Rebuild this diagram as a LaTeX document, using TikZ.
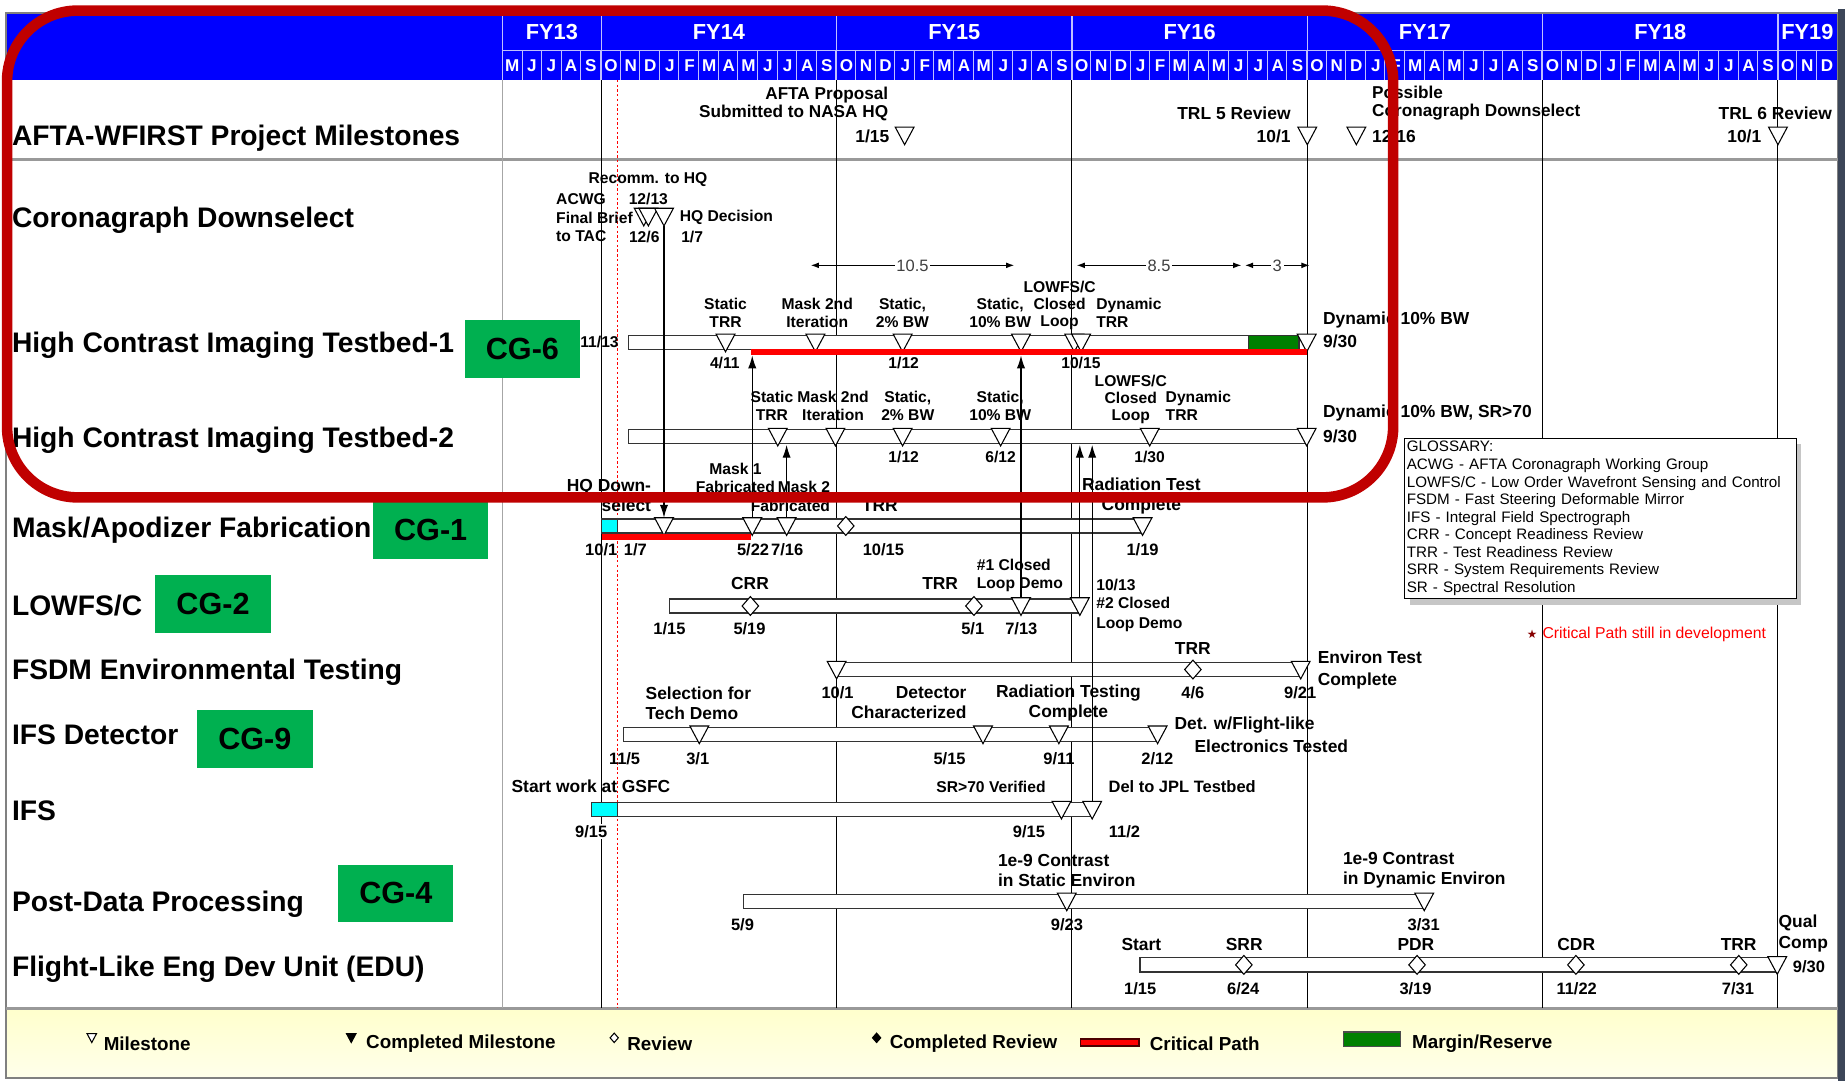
\documentclass[tikz,border=0pt]{standalone}
\usepackage{fontspec}
\setmainfont{Liberation Sans}
\newfontfamily\symfont{DejaVu Sans}
\usetikzlibrary{arrows.meta}

\definecolor{hdrblue}{RGB}{0,0,255}
\definecolor{cgreen}{RGB}{0,176,80}
\definecolor{margin}{RGB}{0,128,0}
\definecolor{outred}{RGB}{192,0,0}
\definecolor{legyellow}{RGB}{255,255,204}
\definecolor{slate}{RGB}{60,70,88}
\definecolor{aqua}{RGB}{0,255,255}

\newcommand\fa{\fontsize{13.3}{15}\selectfont\bfseries}
\newcommand\fb{\fontsize{14.8}{17}\selectfont\bfseries}
\newcommand\fd{\fontsize{14}{16}\selectfont\bfseries}

\begin{document}
\begin{tikzpicture}[x=1pt, y=-1pt,
    every node/.style={inner sep=0pt},
    la/.style={font=\fa, align=center},
    lb/.style={font=\fb, align=center},
    dt/.style={font=\fd},
    rowlab/.style={anchor=base west, font=\fontsize{24}{28}\selectfont\bfseries},
    cg/.style={fill=cgreen, minimum width=98, minimum height=49, font=\fontsize{26}{30}\selectfont\bfseries},
    bar/.style={draw=black!80, fill=white, line width=1.1pt},
    link/.style={line width=1.1pt, -{Latex[length=11pt,width=7pt]}},
    dim/.style={line width=1pt, {Latex[length=7pt,width=5pt]}-{Latex[length=7pt,width=5pt]}},
    dimlab/.style={fill=white, inner xsep=1.5pt, font=\fontsize{14}{16}\selectfont, text=black!75},
    crit/.style={red, line width=5pt},
    mon/.style={text=white, font=\fontsize{14.5}{16}\selectfont\bfseries},
    fy/.style={text=white, font=\fontsize{18.5}{20}\selectfont\bfseries},
    hdrline/.style={white!75!blue, line width=0.8pt},
    leg/.style={anchor=west, font=\fontsize{16}{18}\selectfont\bfseries},
    mfill/.store in=\mfill, mfill=white,
    mile/.pic={\draw[fill=\mfill, line width=0.9pt] (-8,-7) -- (8,-7) -- (0,8) -- cycle;
      \coordinate (-top) at (0,-7); \coordinate (-bot) at (0,8);},
    rev/.pic={\draw[fill=\mfill, line width=0.9pt] (0,-8) -- (7,0) -- (0,8) -- (-7,0) -- cycle;}
  ]
\useasboundingbox (0,0) rectangle (1568,919);
\fill[white] (0,0) rectangle (1568,919);

% header
\fill[hdrblue] (5,11) rectangle (1562,68);
\draw[hdrline] (427,42.5) -- (1561,42.5);
\foreach \x in {427,511,711,911,1111,1311,1511}
  \draw[hdrline, line width=1pt] (\x,11) -- (\x,68);
\foreach \i in {1,...,67}
  \draw[hdrline] ({427+16.667*\i},42.5) -- ({427+16.667*\i},68);
\foreach \f/\x in {13/469,14/611,15/811,16/1011,17/1211,18/1411,19/1536}
  \node[fy] (fy\f) at (\x,27.5) {FY\f};
\foreach \m [count=\i from 0] in {M,J,J,A,S}
  \node[mon] (mA\i) at ({427+16.667*(\i+0.5)},55.5) {\m};
\foreach \y in {0,...,4}
  \foreach \m [count=\i from 0] in {O,N,D,J,F,M,A,M,J,J,A,S}
    \node[mon] (m\y-\i) at ({511+200*\y+16.667*(\i+0.5)},55.5) {\m};
\foreach \m [count=\i from 0] in {O,N,D}
  \node[mon] (mZ\i) at ({1511+16.667*(\i+0.5)},55.5) {\m};

% legend band and frame
\shade[top color=legyellow, bottom color=white!60!legyellow] (5,857) rectangle (1562,916);
\draw[gray, line width=1.5pt] (5,11) rectangle (1562,916);
\fill[slate] (1562,8) rectangle (1568,919);
\draw[gray!80, line width=2.2pt] (5,135.5) -- (1562,135.5);
\draw[gray!80, line width=2.5pt] (5,857) -- (1562,857);

% time grid
\draw[gray!70, line width=1pt] (427,68) -- (427,857);
\foreach \x in {511,711,...,1511}
  \draw[line width=0.9pt] (\x,68) -- (\x,857);
\draw[red, line width=1pt, dash pattern=on 2pt off 2pt] (524.5,68) -- (524.5,857);

\coordinate (h1low) at (0,302);
\coordinate (h2low) at (0,378);

% bars
\draw[bar] (534.3,285) rectangle (1111,297);
\draw[bar] (534.3,365) rectangle (1111,377);
\draw[bar] (511.3,441) rectangle (971,453);
\draw[bar] (568.8,509) rectangle (917.7,521);
\draw[bar] (711,563) rectangle (1105.4,575);
\draw[bar] (529.9,618) rectangle (983.8,630);
\draw[bar] (502.5,682) rectangle (928.2,694);
\draw[bar] (632.1,760) rectangle (1210.4,772);
\draw[bar] (968.8,814) rectangle (1510.4,826);
\draw[fill=margin, draw=black!80, line width=1pt] (1061,285) rectangle (1104,297);
\draw[fill=aqua, draw=black!80, line width=1pt] (511.3,441) rectangle (524.5,453);
\draw[fill=aqua, draw=black!80, line width=1pt] (502.5,682) rectangle (524.5,694);

% milestones
\pic (a0a) at (768.8,115) {mile};
\pic (a0b) at (1111,115) {mile};
\pic (a0c) at (1152.7,115) {mile};
\pic (a0d) at (1511,115) {mile};
\pic (cd1) at (547.1,184) {mile};
\pic (cd2) at (551,184) {mile};
\pic (cd3) at (564.3,184) {mile};
\pic (h1a) at (616.6,291) {mile};
\pic (h1b) at (693,291) {mile};
\pic (h1c) at (767.1,291) {mile};
\pic (h1d) at (867.7,291) {mile};
\pic (h1e) at (913,291) {mile};
\pic (h1f) at (918.8,291) {mile};
\pic (h1g) at (1110.5,291) {mile};
\pic (h2a) at (661,371) {mile};
\pic (h2b) at (710,371) {mile};
\pic (h2c) at (767.1,371) {mile};
\pic (h2d) at (850.4,371) {mile};
\pic (h2e) at (977.1,371) {mile};
\pic (h2f) at (1110.5,371) {mile};
\pic (mk1) at (564.3,447) {mile};
\pic (mk2) at (639.3,447) {mile};
\pic (mk3) at (668.5,447) {mile};
\pic (mkr) at (718.8,447) {rev};
\pic (mk4) at (971,447) {mile};
\pic (lwr1) at (637.7,515) {rev};
\pic (lwr2) at (827.7,515) {rev};
\pic (lw3) at (867.7,515) {mile};
\pic (lw4) at (917.7,515) {mile};
\pic (fs1) at (711,569) {mile};
\pic (fsr) at (1013.8,569) {rev};
\pic (fs2) at (1105.4,569) {mile};
\pic (dd1) at (594.3,624) {mile};
\pic (dd2) at (835.4,624) {mile};
\pic (dd3) at (899.9,624) {mile};
\pic (dd4) at (983.8,624) {mile};
\pic (if1) at (902.1,688) {mile};
\pic (if2) at (928.2,688) {mile};
\pic (pd1) at (906.6,766) {mile};
\pic (pd2) at (1210.4,766) {mile};
\pic (eu1) at (1057.1,820) {rev};
\pic (eu2) at (1204.3,820) {rev};
\pic (eu3) at (1339.3,820) {rev};
\pic (eu4) at (1477.7,820) {rev};
\pic (eu5) at (1510.4,820) {mile};

% dependencies
\draw[link] (cd3-bot) -- (mk1-top);
\draw[link] (mk2-top) -- (mk2-top |- h1low);
\draw[link] (mk3-top) -- (mk3-top |- h2low);
\draw[link] (lw3-top) -- (lw3-top |- h1low);
\draw[link] (lw4-top) -- (lw4-top |- h2low);
\draw[link] (if2-top) -- (if2-top |- h2low);

% critical path
\draw[crit] (638.3,299) -- (1111,299);
\draw[crit] (511.3,456) -- (638.3,456);

% spans
\coordinate (d1) at (689,225.5);
\coordinate (d2) at (862,225.5);
\coordinate (d3) at (915,225.5);
\coordinate (d4) at (1055,225.5);
\coordinate (d5) at (1058,225.5);
\coordinate (d6) at (1113,225.5);
\draw[dim] (d1) -- node[dimlab] (s1) {10.5} (d2);
\draw[dim] (d3) -- node[dimlab] (s2) {8.5} (d4);
\draw[dim] (d5) -- node[dimlab] (s3) {3} (d6);

% row 0
\node[lb, anchor=east, align=right, font=\fontsize{14.6}{15.5}\selectfont\bfseries] (t0a) at (755,88.5) {AFTA Proposal\\Submitted to NASA HQ};
\node[lb, anchor=east] (t0b) at (756,116) {1/15};
\node[lb, anchor=east] (t0c) at (1097,96) {TRL 5 Review};
\node[lb, anchor=east] (t0d) at (1097,116) {10/1};
\node[lb, anchor=west, align=left, font=\fontsize{14.6}{15.5}\selectfont\bfseries] (t0e) at (1166,87.5) {Possible\\Coronagraph Downselect};
\node[lb, anchor=west] (t0f) at (1166,116) {12/16};
\node[lb, anchor=east] (t0g) at (1557,96) {TRL 6 Review};
\node[lb, anchor=east] (t0h) at (1497,116) {10/1};

% row 1
\node[la] (t1a) at (550.7,152.4) {Recomm. to HQ};
\node[la, anchor=west, align=left, font=\fontsize{13.3}{15.8}\selectfont\bfseries] (t1b) at (472.5,185) {ACWG\\Final Brief\\to TAC};
\node[la] (t1c) at (551,169.4) {12/13};
\node[la] (t1d) at (547.5,201) {12/6};
\node[la, anchor=west] (t1e) at (577.6,184.7) {HQ Decision};
\node[la, anchor=west] (t1f) at (578.8,201) {1/7};

% row 2
\node[la, anchor=east] (t2a) at (526,291) {11/13};
\node[la] (t2b) at (616.6,266) {Static\\TRR};
\node[la] (t2c) at (694.5,266) {Mask 2nd\\Iteration};
\node[la] (t2d) at (767,266) {Static,\\2\% BW};
\node[la] (t2e) at (850,266) {Static,\\10\% BW};
\node[la, font=\fontsize{13.3}{14.5}\selectfont\bfseries] (t2f) at (900.5,259.5) {LOWFS/C\\Closed\\Loop};
\node[la, anchor=west, align=left] (t2g) at (931.5,266) {Dynamic\\TRR};
\node[la] (t2h) at (616,308.8) {4/11};
\node[la] (t2i) at (768,308.8) {1/12};
\node[la] (t2j) at (918.6,308.8) {10/15};
\node[lb, anchor=west] (t2k) at (1124.3,272) {Dynamic 10\% BW};
\node[lb, anchor=west] (t2l) at (1124.3,290.4) {9/30};

% row 3
\node[la] (t3a) at (656,345) {Static\\TRR};
\node[la] (t3b) at (708,345) {Mask 2nd\\Iteration};
\node[la] (t3c) at (771.5,345) {Static,\\2\% BW};
\node[la] (t3d) at (850,345) {Static,\\10\% BW};
\node[la, font=\fontsize{13.3}{14.5}\selectfont\bfseries] (t3e) at (961,339.7) {LOWFS/C\\Closed\\Loop};
\node[la, anchor=west, align=left] (t3f) at (990.5,345) {Dynamic\\TRR};
\node[la] (t3g) at (768,388) {1/12};
\node[la] (t3h) at (850.4,388) {6/12};
\node[la] (t3i) at (977,388) {1/30};
\node[lb, anchor=west] (t3j) at (1124.3,351) {Dynamic 10\% BW, SR>70};
\node[lb, anchor=west] (t3k) at (1124.3,370.5) {9/30};

% row 4
\node[lb, anchor=east, align=right] (t4a) at (553.5,421.5) {HQ Down-\\select};
\node[la] (t4b) at (625,406) {Mask 1\\Fabricated};
\node[la, anchor=east, align=right, font=\fontsize{13.3}{16.4}\selectfont\bfseries] (t4c) at (705.6,422) {Mask 2\\Fabricated};
\node[lb] (t4d) at (747.8,430) {TRR};
\node[lb] (t4e) at (970,421.5) {Radiation Test\\Complete};
\node[dt] (t4f) at (511,467.4) {10/1};
\node[dt] (t4g) at (540,467.4) {1/7};
\node[dt] (t4h) at (640,467.4) {5/22};
\node[dt] (t4i) at (669,467.4) {7/16};
\node[dt] (t4j) at (750.8,467.4) {10/15};
\node[dt] (t4k) at (971,467.4) {1/19};

% row 5
\node[lb] (t5a) at (637.4,495.7) {CRR};
\node[lb] (t5b) at (799,495.7) {TRR};
\node[la, anchor=west, align=left, font=\fontsize{13.3}{16}\selectfont\bfseries] (t5c) at (830,489) {\#1 Closed\\Loop Demo};
\node[la, anchor=west] (t5d) at (931.5,497) {10/13};
\node[la, anchor=west, align=left, font=\fontsize{13.3}{17}\selectfont\bfseries] (t5e) at (931.5,522.5) {\#2 Closed\\Loop Demo};
\node[dt] (t5f) at (569,534) {1/15};
\node[dt] (t5g) at (637,534) {5/19};
\node[dt] (t5h) at (826.7,534) {5/1};
\node[dt] (t5i) at (868,534) {7/13};

% row 6
\node[lb] (t6a) at (1013.7,551) {TRR};
\node[lb, anchor=west, align=left, font=\fontsize{14.8}{18}\selectfont\bfseries] (t6b) at (1119.7,569.4) {Environ Test\\Complete};
\node[dt] (t6c) at (711.8,589) {10/1};
\node[dt] (t6d) at (1013.7,589) {4/6};
\node[dt] (t6e) at (1105,589) {9/21};

% row 7
\node[lb, anchor=west, align=left] (t7a) at (548.5,597.4) {Selection for\\Tech Demo};
\node[lb, anchor=east, align=right] (t7b) at (821.6,597.4) {Detector\\Characterized};
\node[lb] (t7c) at (908,597.4) {Radiation Testing\\Complete};
\node[lb, anchor=west] (t7d) at (998,616) {Det. w/Flight-like};
\node[lb, anchor=west] (t7e) at (1015,634) {Electronics Tested};
\node[dt] (t7f) at (530.8,644.5) {11/5};
\node[dt] (t7g) at (593,644.5) {3/1};
\node[dt] (t7h) at (807,644.5) {5/15};
\node[dt] (t7i) at (900,644.5) {9/11};
\node[dt] (t7j) at (983.6,644.5) {2/12};

% row 8
\node[lb, anchor=west] (t8a) at (434.6,668.5) {Start work at GSFC};
\node[la, anchor=east] (t8b) at (888.8,668.5) {SR>70 Verified};
\node[dt, anchor=west] (t8c) at (942,668.5) {Del to JPL Testbed};
\node[dt, fill=white, inner sep=1pt] (t8d) at (502.4,706.8) {9/15};
\node[dt] (t8e) at (874.5,706.8) {9/15};
\node[dt] (t8f) at (955.7,706.8) {11/2};

% row 9
\node[lb, anchor=west, align=left] (t9a) at (848,739.4) {1e-9 Contrast\\in Static Environ};
\node[lb, anchor=west, align=left] (t9b) at (1141.2,739.4) {1e-9 Contrast\\in Dynamic Environ};
\node[dt] (t9c) at (631,786) {5/9};
\node[dt] (t9d) at (906.7,786) {9/23};
\node[dt] (t9e) at (1210,786) {3/31};

% row 10
\node[lb] (tAa) at (970,803) {Start};
\node[lb] (tAb) at (1057.4,803) {SRR};
\node[lb] (tAc) at (1203.3,803) {PDR};
\node[lb] (tAd) at (1339.6,803) {CDR};
\node[lb] (tAe) at (1477.6,803) {TRR};
\node[lb, anchor=west, align=left, font=\fontsize{14.8}{17.8}\selectfont\bfseries] (tAf) at (1511.4,793.6) {Qual\\Comp};
\node[dt, anchor=west] (tAg) at (1523.5,821.5) {9/30};
\node[dt] (tAh) at (969,840) {1/15};
\node[dt] (tAi) at (1056.5,840) {6/24};
\node[dt] (tAj) at (1203,840) {3/19};
\node[dt] (tAk) at (1340,840) {11/22};
\node[dt] (tAl) at (1477,840) {7/31};

% row labels
\node[rowlab] (r0) at (10,124) {AFTA-WFIRST Project Milestones};
\node[rowlab] (r1) at (10,193) {Coronagraph Downselect};
\node[rowlab] (r2) at (10,299.6) {High Contrast Imaging Testbed-1};
\node[rowlab] (r3) at (10,380) {High Contrast Imaging Testbed-2};
\node[rowlab] (r4) at (10,456.8) {Mask/Apodizer Fabrication};
\node[rowlab] (r5) at (10,523.5) {LOWFS/C};
\node[rowlab] (r6) at (10,577.6) {FSDM Environmental Testing};
\node[rowlab] (r7) at (10,633) {IFS Detector};
\node[rowlab] (r8) at (10,696.9) {IFS};
\node[rowlab] (r9) at (10,774.4) {Post-Data Processing};
\node[rowlab] (r10) at (10,829.7) {Flight-Like Eng Dev Unit (EDU)};

\node[cg] (cg6) at (444,296.5) {CG-6};
\node[cg] (cg1) at (366,450.3) {CG-1};
\node[cg] (cg2) at (181,513.4) {CG-2};
\node[cg] (cg9) at (216.6,628) {CG-9};
\node[cg] (cg4) at (336.4,759.2) {CG-4};

% glossary
\fill[gray!45] (1198,377) rectangle (1531,514.5);
\node[draw, line width=1.2pt, fill=white, anchor=north west, align=left,
      text width=329, inner xsep=2pt, inner ysep=2.5pt,
      font=\fontsize{12.9}{14.9}\selectfont] (gloss) at (1193,372)
  {GLOSSARY:\\
   ACWG - AFTA Coronagraph Working Group\\
   LOWFS/C - Low Order Wavefront Sensing and Control\\
   FSDM - Fast Steering Deformable Mirror\\
   IFS - Integral Field Spectrograph\\
   CRR - Concept Readiness Review\\
   TRR - Test Readiness Review\\
   SRR - System Requirements Review\\
   SR - Spectral Resolution};
\node[text=outred!70!black, font=\symfont\fontsize{10}{10}\selectfont] (star) at (1302,538.8) {★};
\node[anchor=west, text=red, font=\fontsize{13.4}{15}\selectfont] (note) at (1310.7,538.8) {Critical Path still in development};

% legend
\pic[scale=0.5] (lg1) at (78,882) {mile};
\node[leg] (lt1) at (88,887) {Milestone};
\pic[scale=0.5, mfill=black] (lg2) at (298.5,882) {mile};
\node[leg] (lt2) at (311,887) {Completed Milestone};
\pic[scale=0.5] (lg3) at (522,882) {rev};
\node[leg] (lt3) at (533,887) {Review};
\pic[scale=0.5, mfill=black] (lg4) at (745,882) {rev};
\node[leg] (lt4) at (756,887) {Completed Review};
\draw[fill=red, draw=black!70!red, line width=1pt] (918,883) rectangle (968,889);
\node[leg] (lt5) at (977,887) {Critical Path};
\draw[fill=margin, draw=black!70, line width=1pt] (1142,877) rectangle (1190,889.5);
\node[leg] (lt6) at (1200,887) {Margin/Reserve};

% highlight
\draw[outred, line width=9pt, rounded corners=60] (6,9) rectangle (1184,422.7);
\end{tikzpicture}
\end{document}
